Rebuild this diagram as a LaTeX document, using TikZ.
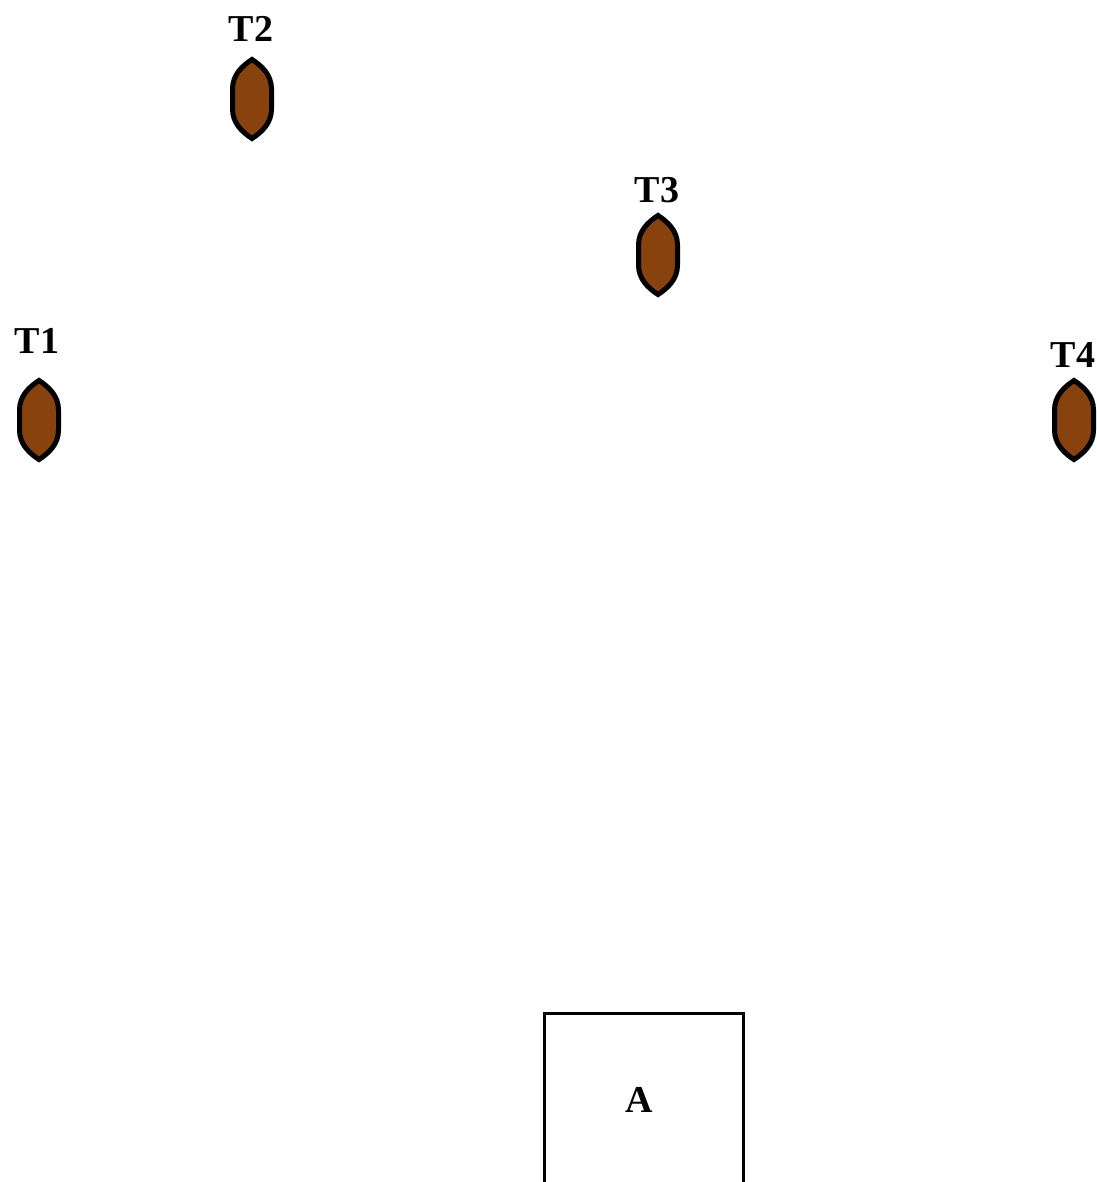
\documentclass[tikz,border=0pt]{standalone}
\usepackage{fontspec}
\setmainfont{Liberation Serif}
\usetikzlibrary{calc}
\begin{document}
\begin{tikzpicture}[x=1pt,y=-1pt,
  lbl/.style={font=\fontsize{38}{41}\selectfont\bfseries, inner sep=0pt, anchor=base},
  pod/.style={draw=black, line width=5pt, fill=podbrown},
  boxline/.style={draw=black, line width=3.5pt}]
\definecolor{podbrown}{RGB}{135,66,14}
\useasboundingbox (0,0) rectangle (1096,1182);
\clip (0,0) rectangle (1096,1182);
% pod centres
\coordinate (p1) at (39,420);
\coordinate (p2) at (252,99);
\coordinate (p3) at (658,255);
\coordinate (p4) at (1074,420);
\foreach \p in {p1,p2,p3,p4}{
  \path[pod] ($(\p)+(0,-39.5)$)
    .. controls ($(\p)+(10,-33)$) and ($(\p)+(19.5,-24)$) .. ($(\p)+(19.5,-10)$)
    -- ($(\p)+(19.5,10)$)
    .. controls ($(\p)+(19.5,24)$) and ($(\p)+(10,33)$) .. ($(\p)+(0,39.5)$)
    .. controls ($(\p)+(-10,33)$) and ($(\p)+(-19.5,24)$) .. ($(\p)+(-19.5,10)$)
    -- ($(\p)+(-19.5,-10)$)
    .. controls ($(\p)+(-19.5,-24)$) and ($(\p)+(-10,-33)$) .. cycle;
}
% labels
\node[lbl] (t1) at (37,353) {T1};
\node[lbl] (t2) at (251,42) {T2};
\node[lbl] (t3) at (657,203) {T3};
\node[lbl] (t4) at (1073,367) {T4};
% box
\coordinate (bl) at (544.5,1200);
\coordinate (br) at (743.5,1200);
\path[boxline] (bl) |- (644,1013.5) -| (br);
\node[lbl] (a) at (639,1112) {A};
\end{tikzpicture}
\end{document}
